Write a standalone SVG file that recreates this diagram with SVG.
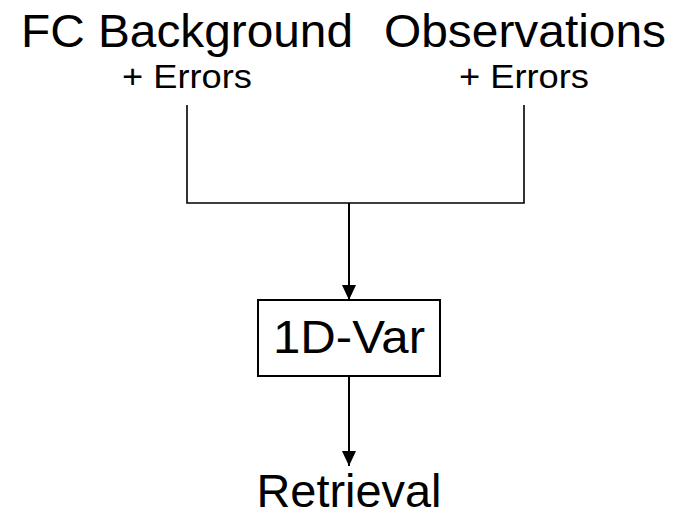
<svg xmlns="http://www.w3.org/2000/svg" width="679" height="517" viewBox="0 0 679 517">
<style>
text{font-family:"Liberation Sans",Arial,sans-serif;fill:#000;text-anchor:middle}
.big{font-size:46px}
.small{font-size:33px}
.ln{stroke:#000;stroke-width:1.6;fill:none}
.arr{stroke:#000;stroke-width:2;fill:none}
</style>
<defs>
<marker id="ah" markerUnits="userSpaceOnUse" viewBox="0 0 15 14" refX="15" refY="7" markerWidth="15" markerHeight="14" orient="auto">
<path d="M0,0 L15,7 L0,14 Z" fill="#000"/>
</marker>
</defs>
<rect width="679" height="517" fill="#fff"/>
<g id="background">
<text class="big" x="187" y="47" textLength="332" lengthAdjust="spacingAndGlyphs">FC Background</text>
<text class="small" x="187" y="88" textLength="130" lengthAdjust="spacingAndGlyphs">+ Errors</text>
</g>
<g id="observations">
<text class="big" x="525" y="47" textLength="282" lengthAdjust="spacingAndGlyphs">Observations</text>
<text class="small" x="524" y="88" textLength="130" lengthAdjust="spacingAndGlyphs">+ Errors</text>
</g>
<g id="onedvar">
<rect x="258" y="300" width="182" height="76" fill="#fff" stroke="#000" stroke-width="2"/>
<text class="big" x="349" y="353" textLength="152" lengthAdjust="spacingAndGlyphs">1D-Var</text>
</g>
<g id="retrieval">
<text class="big" x="349" y="507" textLength="185" lengthAdjust="spacingAndGlyphs">Retrieval</text>
</g>
<g id="connectors">
<polyline class="ln" points="187,105 187,203 524,203 524,105"/>
<line class="arr" x1="349" y1="203" x2="349" y2="300" marker-end="url(#ah)"/>
<line class="arr" x1="349" y1="376" x2="349" y2="466" marker-end="url(#ah)"/>
</g>
</svg>
